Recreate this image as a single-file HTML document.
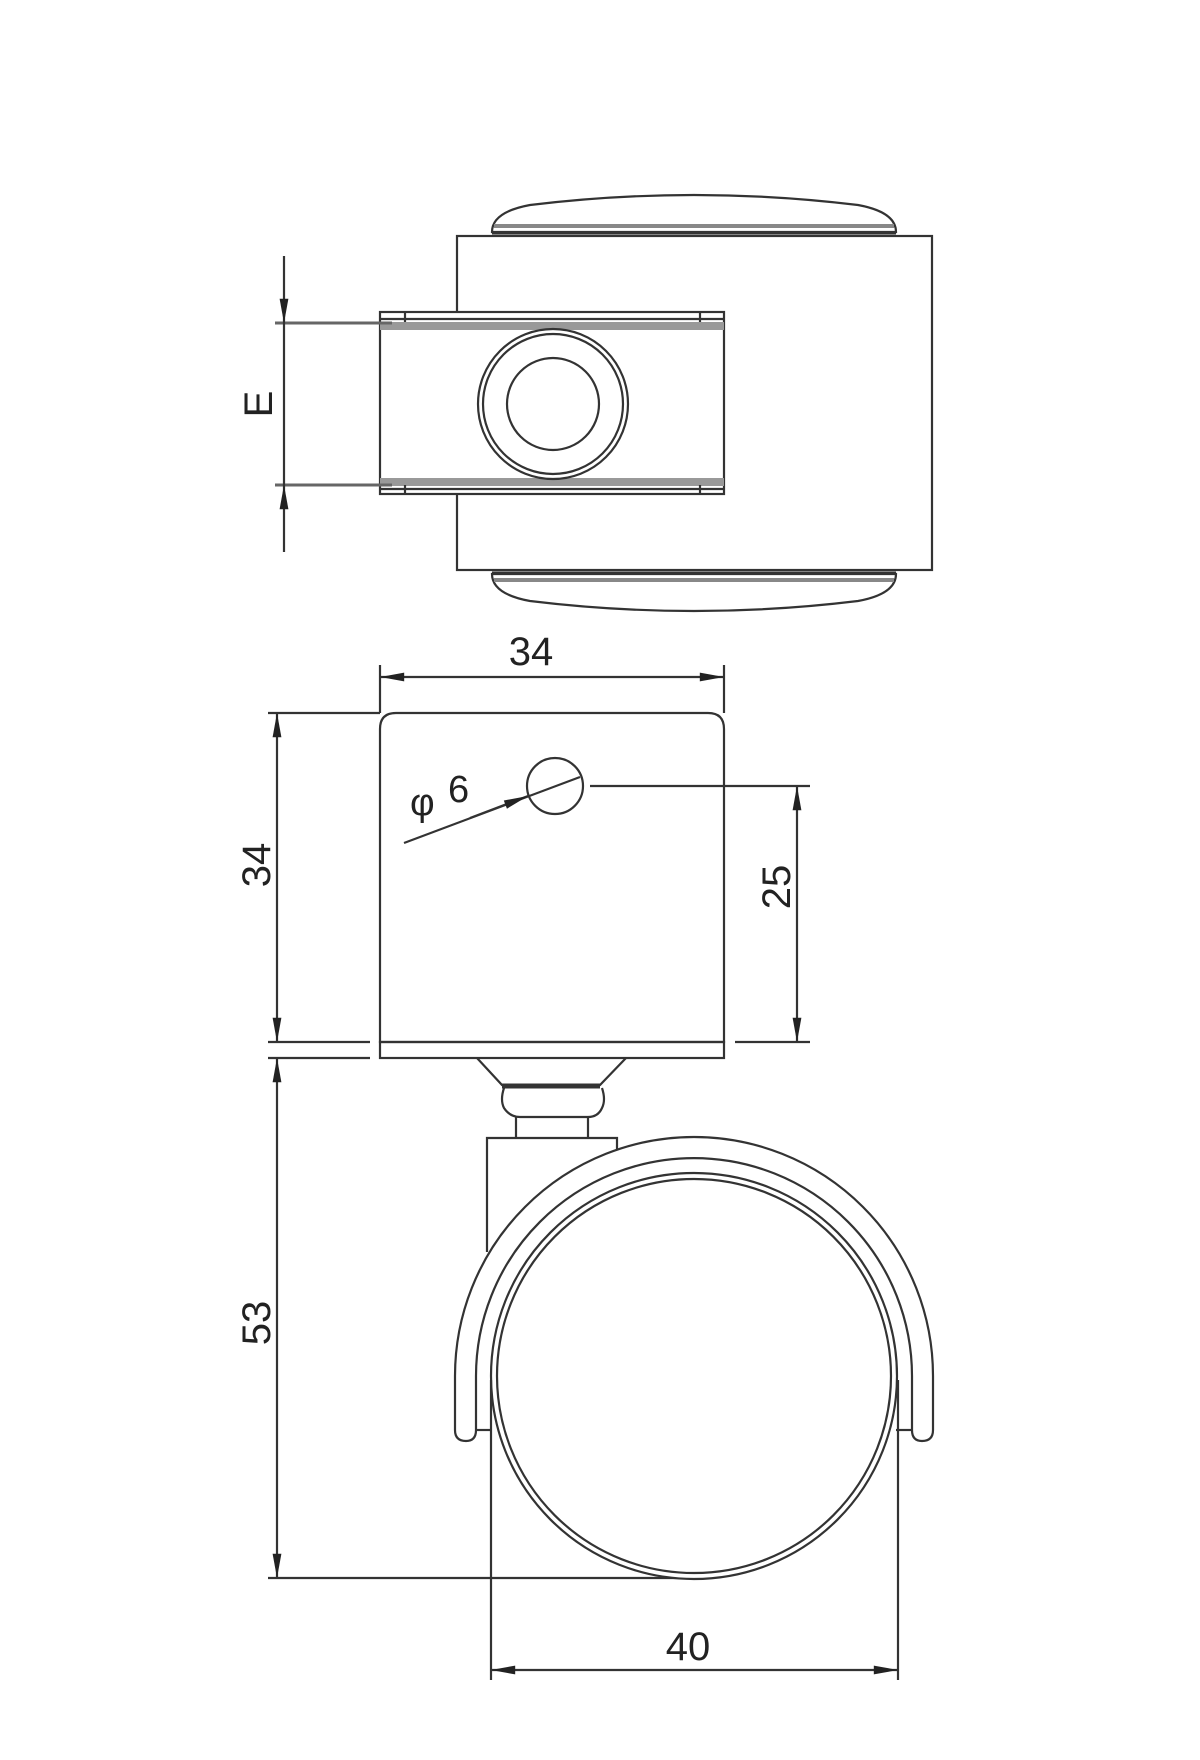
<!DOCTYPE html>
<html><head><meta charset="utf-8"><style>html,body{margin:0;padding:0;background:#fff}svg{display:block}</style></head>
<body>
<svg width="1200" height="1760" viewBox="0 0 1200 1760" xmlns="http://www.w3.org/2000/svg" font-family="Liberation Sans, sans-serif">
<defs>
<marker id="b" viewBox="0 0 22 10" refX="22" refY="5" markerWidth="26" markerHeight="11" markerUnits="userSpaceOnUse" orient="auto-start-reverse"><path d="M0,1 L22,5 L0,9z" fill="#222"/></marker>
</defs>
<g fill="none" stroke="#333" stroke-width="2.2">
<rect x="457" y="236" width="475" height="334"/>
<path d="M492,232 Q492,212 530,205 Q694,185 858,205 Q896,212 896,232 Z"/>
<line x1="494" y1="226" x2="894" y2="226" stroke="#888" stroke-width="4"/>
<line x1="492" y1="233" x2="896" y2="233" stroke-width="3"/>
<path d="M492,574 Q492,594 530,601 Q694,621 858,601 Q896,594 896,574 Z"/>
<line x1="494" y1="580" x2="894" y2="580" stroke="#888" stroke-width="4"/>
<line x1="492" y1="573" x2="896" y2="573" stroke-width="3"/>
<rect x="380" y="312" width="344" height="182" fill="#fff"/>
<line x1="380" y1="326" x2="724" y2="326" stroke="#999" stroke-width="8"/>
<line x1="380" y1="482" x2="724" y2="482" stroke="#999" stroke-width="8"/>
<line x1="380" y1="319" x2="724" y2="319"/>
<line x1="380" y1="489" x2="724" y2="489"/>
<line x1="405" y1="312" x2="405" y2="322"/><line x1="700" y1="312" x2="700" y2="322"/>
<line x1="405" y1="485" x2="405" y2="494"/><line x1="700" y1="485" x2="700" y2="494"/>
<circle cx="553" cy="404" r="75" fill="#fff"/>
<circle cx="553" cy="404" r="70"/>
<circle cx="553" cy="404" r="46"/>
<line x1="275" y1="323" x2="392" y2="323" stroke="#666" stroke-width="3"/>
<line x1="275" y1="485" x2="392" y2="485" stroke="#666" stroke-width="3"/>
<line x1="284" y1="256" x2="284" y2="323" marker-end="url(#b)"/>
<line x1="284" y1="485" x2="284" y2="552" marker-start="url(#b)"/>
<line x1="284" y1="323" x2="284" y2="485"/>
<path d="M380,1042 L380,729 Q380,713 396,713 L708,713 Q724,713 724,729 L724,1042 Z"/>
<rect x="380" y="1042" width="344" height="16"/>
<line x1="380" y1="665" x2="380" y2="713"/>
<line x1="724" y1="665" x2="724" y2="713"/>
<line x1="380" y1="677" x2="724" y2="677" marker-start="url(#b)" marker-end="url(#b)"/>
<line x1="268" y1="713" x2="380" y2="713"/>
<line x1="277" y1="713" x2="277" y2="1042" marker-start="url(#b)" marker-end="url(#b)"/>
<line x1="268" y1="1042" x2="370" y2="1042"/>
<line x1="268" y1="1058" x2="370" y2="1058"/>
<line x1="277" y1="1058" x2="277" y2="1578" marker-start="url(#b)" marker-end="url(#b)"/>
<line x1="268" y1="1578" x2="700" y2="1578"/>
<circle cx="555" cy="786" r="28"/>
<line x1="590" y1="786" x2="810" y2="786"/>
<line x1="735" y1="1042" x2="810" y2="1042"/>
<line x1="797" y1="786" x2="797" y2="1042" marker-start="url(#b)" marker-end="url(#b)"/>
<line x1="404" y1="843" x2="580" y2="777"/>
<line x1="470" y1="818" x2="528" y2="796" marker-end="url(#b)"/>
<path d="M477,1058 L502,1085 L600,1085 L626,1058"/>
<line x1="502" y1="1086" x2="600" y2="1086" stroke-width="5"/>
<path d="M504,1088 Q500,1100 504,1108 Q510,1117 520,1117 L588,1117 Q598,1117 602,1108 Q606,1100 602,1088"/>
<path d="M516,1117 L516,1138 M588,1117 L588,1138"/>
<path d="M487,1252 L487,1138 L617,1138 L617,1153"/>
<path d="M455,1376 A239,239 0 0 1 933,1376 L933,1430 Q933,1441 922,1441 Q912,1441 912,1430 L912,1376" fill="#fff"/>
<path d="M455,1376 L455,1430 Q455,1441 466,1441 Q476,1441 476,1430 L476,1376 A218,218 0 0 1 912,1376"/>
<circle cx="694" cy="1376" r="203" fill="#fff"/>
<circle cx="694" cy="1376" r="197"/>
<line x1="476" y1="1430" x2="492" y2="1430"/>
<line x1="896" y1="1430" x2="912" y2="1430"/>
<line x1="491" y1="1380" x2="491" y2="1680"/>
<line x1="898" y1="1380" x2="898" y2="1680"/>
<line x1="491" y1="1670" x2="898" y2="1670" marker-start="url(#b)" marker-end="url(#b)"/>
</g>
<g fill="#222" font-size="40">
<text x="531" y="665" text-anchor="middle">34</text>
<text x="688" y="1660" text-anchor="middle">40</text>
<text transform="translate(270,865) rotate(-90)" text-anchor="middle">34</text>
<text transform="translate(270,1323) rotate(-90)" text-anchor="middle">53</text>
<text transform="translate(790,887) rotate(-90)" text-anchor="middle">25</text>
<text transform="translate(272,404) rotate(-90)" text-anchor="middle">E</text>
<text x="410" y="815" font-size="38">φ</text>
<text x="448" y="802" font-size="38">6</text>
</g>
</svg>
</body></html>
